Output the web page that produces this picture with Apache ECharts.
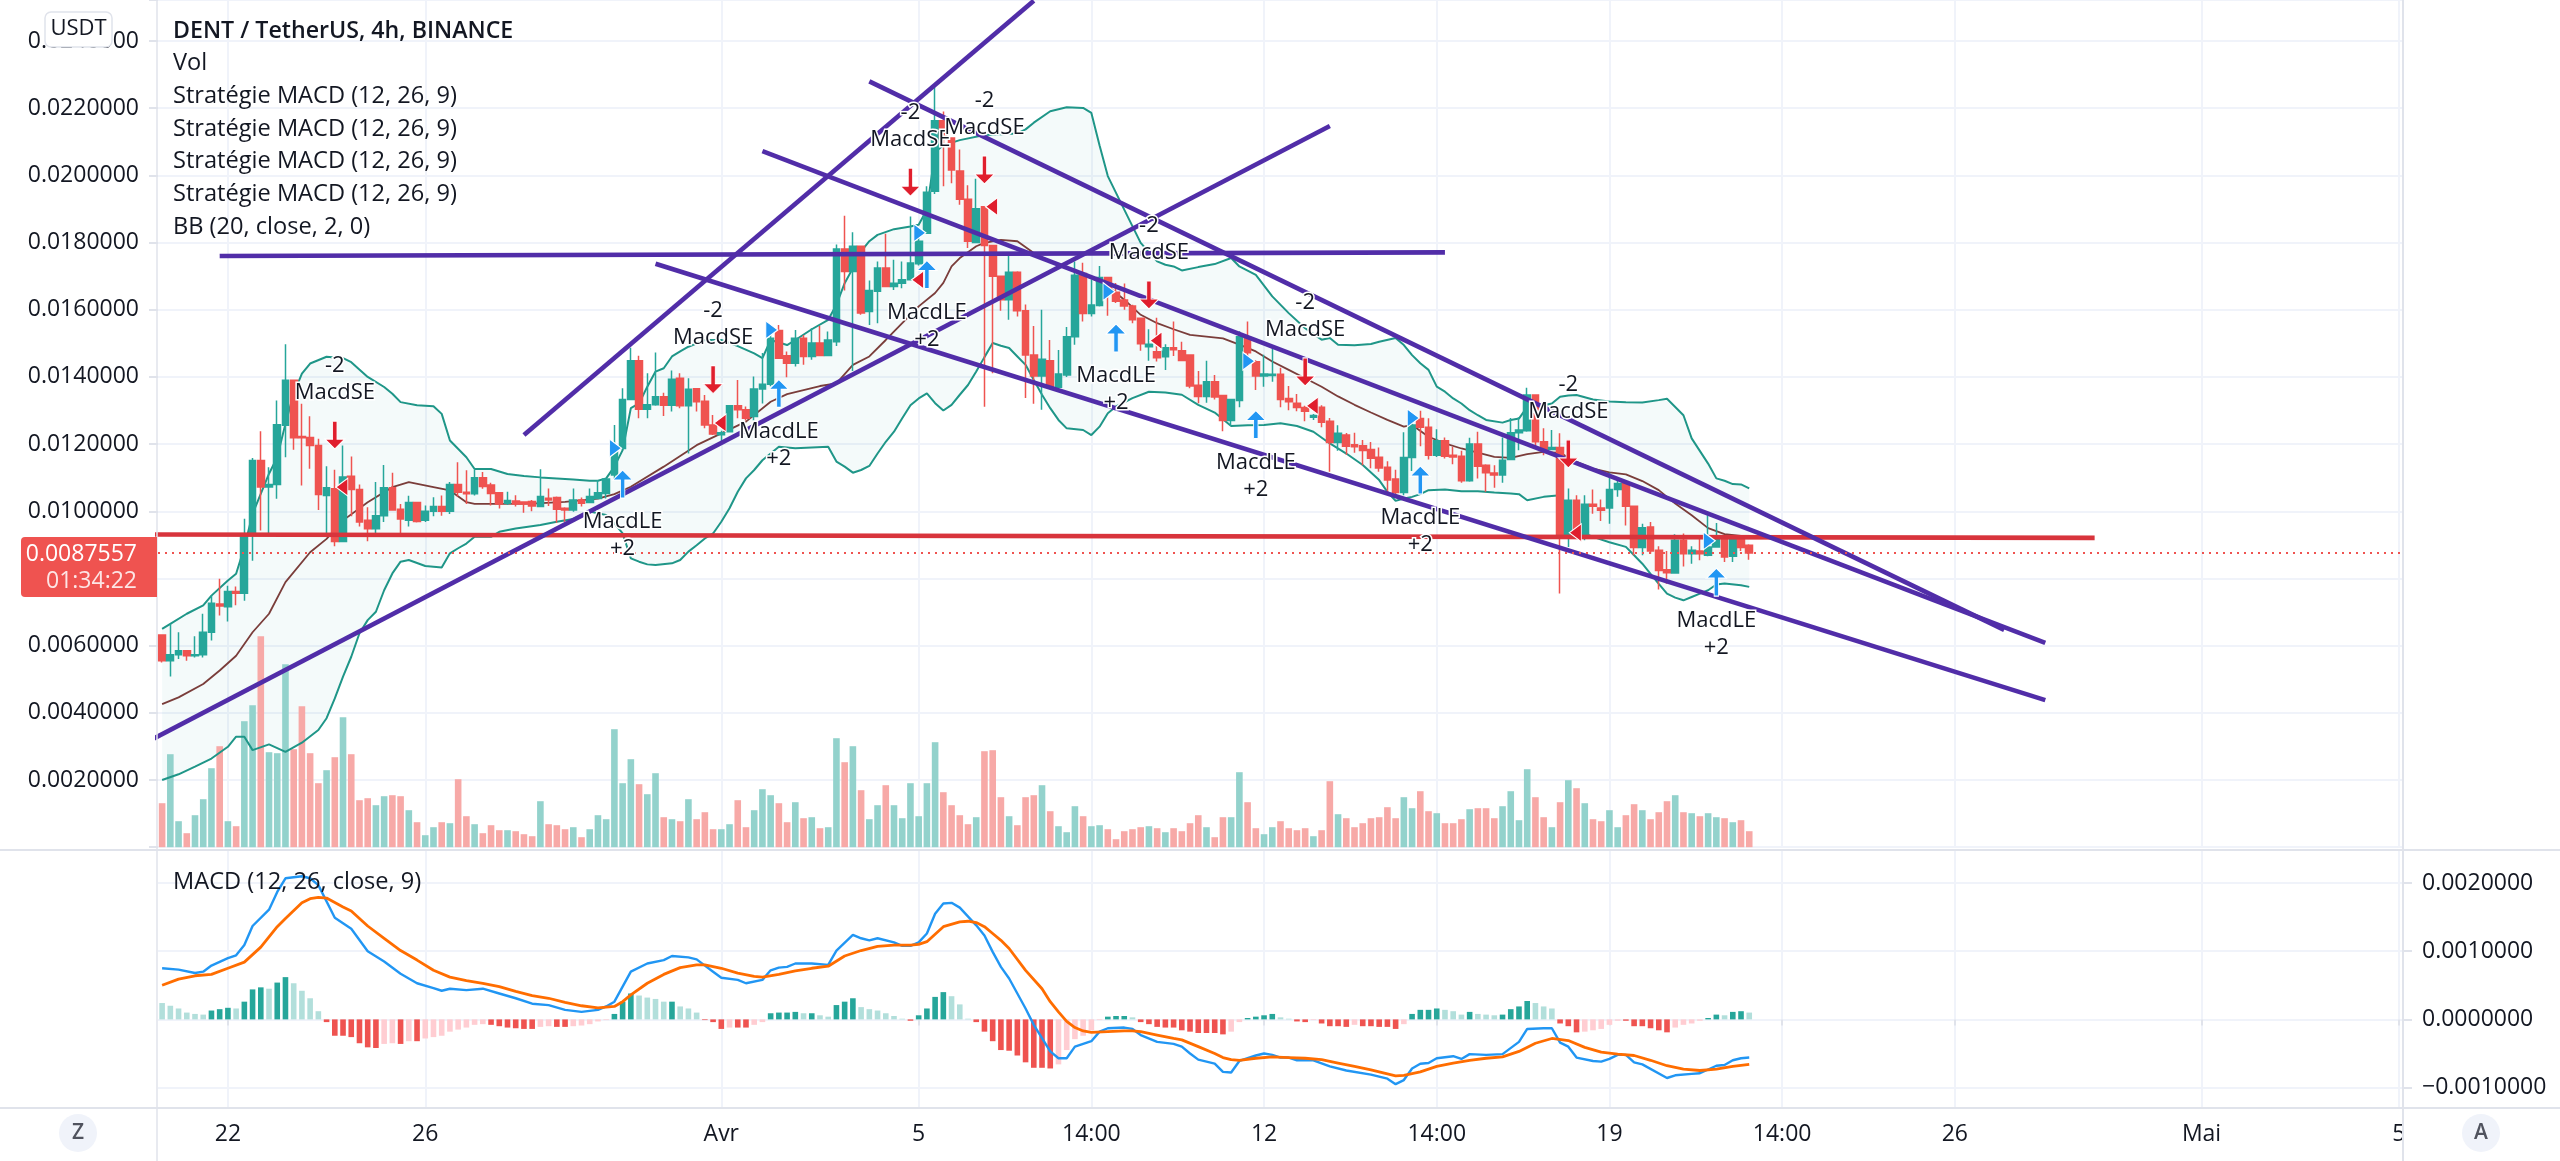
<!DOCTYPE html>
<html>

<head>
    <meta charset="utf-8">
    <title>DENT / TetherUS</title>
    <script src="https://cdn.jsdelivr.net/npm/echarts@6/dist/echarts.min.js"></script>
    <style>
        html, body { margin: 0; padding: 0; background: #fff; }
    </style>
</head>

<body>
    <div id="main" style="width:2560px;height:1161px;"></div>
    <script type="text/javascript">
        // x axis: one slot per 4h candle, including the empty space on the right
        const slotCount = 273;
        const xTickIndex = [8, 32, 68, 92, 113, 134, 155, 176, 197, 218, 248, 272];
        const xTickLabels = ['22', '26', 'Avr', '5', '14:00', '12', '14:00', '19', '14:00', '26', 'Mai', '5'];

        const opens = [
            .00632,.00555,.00573,.00585,.0057,.00573,.0064,.00724,.00716,.00761,
            .00756,.00933,.01151,.01072,.0108,.01256,.0139,.01223,.0122,.01196,
            .01047,.01067,.0091,.01104,.01065,.00973,.00948,.00987,.0107,.01006,
            .00973,.01026,.00973,.01,.01014,.01,.0108,.01057,.01052,.011,
            .01078,.01055,.01024,.01031,.01028,.01029,.01014,.01039,.01041,.01009,
            .01004,.01034,.01026,.01038,.01053,.01108,.01187,.01333,.01448,.01304,
            .01317,.01341,.01316,.01396,.01314,.01365,.01328,.01257,.01228,.01237,
            .01314,.01302,.01282,.01364,.01378,.01538,.01463,.01441,.01515,.01461,
            .01501,.01464,.01505,.01781,.01714,.01789,.01595,.01655,.01724,.01669,
            .01679,.01689,.01737,.01828,.01953,.02163,.02111,.02013,.01929,.018,
            .01907,.01791,.017,.0163,.01712,.01597,.01465,.01403,.01448,.01369,
            .01406,.0152,.01708,.01589,.01613,.01696,.01652,.01629,.01611,.01575,
            .0149,.01475,.0146,.01487,.01478,.01465,.01375,.01342,.01386,.01345,
            .0127,.0133,.01518,.01445,.01403,.01404,.01408,.01336,.01322,.01309,
            .0128,.0131,.01268,.01205,.01227,.01198,.01195,.01184,.01161,.01131,
            .01096,.01056,.0116,.01276,.0125,.01167,.0121,.01167,.01164,.01091,
            .012,.01137,.01114,.01108,.01154,.01234,.0124,.01346,.01207,.01184,
            .0119,.00929,.01033,.00924,.01021,.0101,.0101,.01065,.01083,.01015,
            .00892,.00953,.00884,.00826,.00816,.00914,.00874,.00882,.00869,.00894,
            .00926,.00866,.00926,.00899
        ];
        const closes = [
            .00555,.00573,.00585,.0057,.00573,.0064,.00726,.00718,.00761,.00756,
            .00933,.01151,.01072,.0108,.01258,.0139,.01219,.01219,.01196,.0105,
            .0107,.0091,.01102,.01065,.00968,.00948,.00987,.0107,.01004,.00977,
            .01026,.0097,.01,.01014,.01,.0108,.01057,.01052,.011,.01074,
            .01053,.01022,.01032,.01022,.01022,.01016,.01044,.01034,.01006,.01004,
            .01034,.01024,.01044,.01055,.01096,.01187,.01333,.01448,.01304,.01317,
            .01341,.01316,.01393,.01314,.01363,.01326,.01257,.0123,.01234,.01314,
            .01302,.01277,.01364,.01378,.01515,.01456,.01441,.01515,.01461,.01501,
            .01464,.0151,.01781,.01714,.01789,.0159,.01657,.01724,.01669,.01679,
            .01689,.01739,.01804,.0195,.02163,.0211,.02016,.01929,.01804,.01901,
            .01791,.017,.0163,.01712,.01597,.01465,.01403,.01453,.01371,.01409,
            .0152,.01703,.01589,.01614,.01696,.01648,.01625,.01611,.0157,.01499,
            .01497,.01457,.01487,.01481,.01449,.01373,.01342,.01386,.0134,.0127,
            .01333,.0152,.01472,.01403,.01409,.01408,.01333,.01326,.01309,.01298,
            .01285,.01265,.01205,.01232,.01194,.01192,.01181,.01158,.01129,.01093,
            .01056,.0116,.01257,.0125,.01167,.0121,.01164,.01162,.01091,.012,
            .01134,.01115,.01108,.01152,.01234,.01242,.01346,.01207,.01184,.0119,
            .00929,.01033,.00924,.01021,.01015,.01003,.01065,.01083,.01015,.00892,
            .00951,.00882,.00824,.00817,.00914,.00874,.00884,.00874,.00894,.00919,
            .00864,.00926,.00892,.00876
        ];
        const highs = [
            .00632,.00665,.0064,.00587,.00628,.00695,.00749,.00799,.00778,.00776,
            .00978,.01159,.01238,.01131,.0133,.01497,.0139,.0132,.01283,.01216,
            .01134,.01124,.01196,.01163,.0108,.01012,.01087,.01138,.01115,.01022,
            .01046,.01026,.01017,.01042,.01047,.01087,.01146,.01122,.01124,.01117,
            .01085,.01057,.01058,.01048,.01029,.01034,.01125,.01068,.01044,.01012,
            .01068,.01041,.01068,.01093,.01098,.01257,.01366,.01487,.01463,.01411,
            .01473,.01353,.01419,.01411,.01396,.01366,.01346,.01287,.0124,.01314,
            .01391,.01312,.01401,.01471,.0153,.01555,.01476,.0154,.01525,.01545,
            .01552,.01535,.01794,.0188,.01831,.01789,.01687,.01744,.01826,.01749,
            .01744,.01878,.01835,.01968,.0227,.0219,.02111,.02077,.01971,.0199,
            .01907,.01791,.017,.01767,.01715,.01616,.01552,.016,.0151,.0148,
            .01549,.01744,.0174,.0169,.0173,.01696,.0168,.01678,.01615,.01575,
            .01542,.01576,.01497,.01565,.01505,.01465,.01418,.01448,.01406,.01345,
            .01333,.01536,.01565,.0145,.01466,.0149,.01427,.01373,.01349,.01314,
            .0129,.01316,.01278,.01256,.01233,.01234,.01212,.01206,.0119,.01149,
            .01124,.01235,.01272,.01299,.01277,.01244,.0122,.01192,.0118,.01219,
            .01237,.0114,.01137,.0122,.01278,.0128,.01368,.01346,.01247,.01242,
            .01232,.01068,.01048,.01048,.01065,.01035,.01115,.01093,.01091,.01015,
            .00963,.00968,.00896,.00882,.00932,.00934,.00896,.00924,.00988,.00965,
            .00929,.00929,.00929,.00902
        ];
        const lows = [
            .0055,.00508,.0056,.00555,.00565,.00565,.00615,.0069,.00672,.0072,
            .00734,.00853,.00943,.00928,.01037,.01161,.01183,.01077,.01127,.01004,
            .00928,.00896,.0091,.00985,.00955,.00911,.00935,.00968,.01002,.00931,
            .00955,.00967,.00968,.00985,.00987,.00992,.01044,.01022,.01047,.01067,
            .01017,.01008,.01019,.01014,.00996,.01,.01012,.01016,.00966,.00969,
            .00999,.01014,.01024,.01038,.01038,.01096,.01187,.01331,.01277,.01277,
            .01314,.01284,.01297,.01307,.01172,.01297,.01247,.01227,.01202,.01235,
            .01277,.0127,.0127,.01321,.01372,.01456,.01399,.01431,.01436,.01451,
            .01463,.01463,.01492,.01657,.01418,.01585,.01555,.0156,.01667,.01659,
            .01664,.01689,.01732,.01828,.01945,.01968,.01977,.01913,.01784,.018,
            .01311,.01411,.01597,.0157,.0158,.01337,.0132,.01302,.01364,.01366,
            .014,.01496,.01565,.0158,.0161,.01582,.0162,.016,.0156,.01478,
            .01448,.01446,.01421,.01462,.0145,.01366,.01322,.01323,.01333,.01238,
            .01254,.0131,.01462,.01361,.01371,.01386,.0131,.01301,.01298,.01268,
            .01272,.0125,.01118,.0118,.01168,.01174,.01137,.01128,.01118,.01048,
            .01044,.01048,.0112,.01194,.01154,.01162,.01157,.0114,.01085,.01088,
            .01098,.01058,.0107,.01085,.01152,.01182,.01237,.01192,.01167,.01182,
            .00755,.00894,.00919,.00914,.00993,.00971,.00963,.01043,.00958,.00869,
            .00869,.00874,.00767,.00784,.00814,.00836,.00844,.00854,.00866,.00894,
            .00849,.00849,.00882,.00856
        ];
        const volumes = [
            44,93,26,14,32,48,79,101,26,21,
            126,142,211,95,94,183,98,141,94,64,
            77,90,130,93,47,49,42,51,52,51,
            37,25,12,20,25,24,68,31,23,14,
            22,17,17,16,13,11,46,23,22,18,
            20,10,18,32,28,118,64,88,63,53,
            74,30,28,26,48,28,35,18,18,23,
            47,20,37,58,52,44,25,45,29,30,
            19,20,109,85,101,57,28,42,62,42,
            29,64,31,64,105,55,42,32,23,30,
            96,97,50,31,22,50,52,62,36,21,
            15,41,31,21,22,18,8,16,18,20,
            21,19,15,19,16,24,32,20,10,30,
            30,75,45,19,13,20,26,19,17,19,
            11,17,66,33,29,20,24,29,30,40,
            29,50,39,56,36,34,24,24,28,38,
            39,39,29,41,56,27,78,50,30,20,
            45,67,59,44,28,26,37,20,32,43,
            37,28,35,46,52,35,34,31,34,30,
            29,25,27,16
        ];

        // bollinger bands, read at [candle, price]
        const bbUpper = [
            [0,.0065],[1,.00665],[3,.00695],[5,.0072],[6,.00749],[8,.00794],[9,.00814],[10,.00893],[11,.00992],[13,.01112],
            [14,.01161],[15,.01261],[16,.0135],[17,.0141],[18,.0144],[20,.0146],[22,.01456],[23,.01444],[25,.014],[27,.0137],
            [28,.0135],[29,.01325],[31,.01316],[33,.01313],[34,.0129],[35,.01211],[37,.01161],[38,.01126],[40,.01126],[42,.01111],
            [44,.01105],[46,.01101],[48,.01098],[50,.01095],[52,.01091],[53,.01091],[54,.01098],[55,.01133],[56,.01182],[57,.01307],
            [58,.01321],[59,.01371],[60,.01416],[61,.01426],[62,.01461],[63,.01476],[64,.0149],[66,.0151],[68,.0151],[70,.01492],
            [72,.0147],[73,.01456],[74,.0151],[76,.01495],[77,.0151],[79,.01542],[81,.0157],[82,.01615],[83,.01679],[84,.01724],
            [85,.01774],[86,.01804],[87,.01823],[89,.0184],[91,.01848],[92,.01853],[93,.01898],[94,.0207],[95,.0209],[97,.02105],
            [100,.0212],[104,.02125],[105,.02137],[106,.02157],[108,.02191],[110,.02203],[112,.02201],[113,.02186],[114,.02089],[115,.01998],
            [117,.01898],[119,.01799],[121,.01744],[122,.01734],[123,.01729],[124,.01717],[126,.01727],[128,.01736],[130,.01754],[131,.01729],
            [133,.01704],[135,.0164],[137,.0159],[139,.01545],[141,.01511],[142,.01516],[143,.01496],[145,.01494],[147,.01498],[148,.01505],
            [150,.01516],[151,.01495],[152,.01465],[153,.01441],[154,.01421],[155,.01371],[156,.01356],[157,.01336],[158,.01321],[159,.01301],
            [160,.01286],[161,.01272],[163,.01264],[164,.01272],[165,.01276],[166,.01311],[167,.01316],[168,.01316],[169,.01321],[170,.01341],
            [171,.01345],[172,.01346],[174,.01333],[176,.01327],[178,.01325],[180,.01324],[182,.01331],[183,.01335],[185,.01286],[186,.01217],
            [188,.01142],[189,.01098],[190,.01091],[191,.01081],[192,.0108],[193,.01068]
        ];
        const bbLower = [
            [0,.002],[2,.00217],[4,.0024],[6,.00264],[8,.00299],[9,.00329],[10,.00329],[11,.00289],[13,.00306],[15,.00284],
            [17,.00311],[19,.00349],[20,.00384],[21,.00443],[22,.00508],[23,.00567],[24,.00637],[25,.00676],[26,.00701],[27,.00765],
            [28,.00815],[29,.0085],[30,.00855],[32,.00837],[34,.00833],[35,.00875],[36,.0089],[37,.00904],[38,.00924],[40,.00924],
            [41,.00939],[43,.00949],[46,.00959],[48,.00969],[50,.00977],[52,.00999],[54,.00989],[55,.00964],[56,.00934],[57,.0086],
            [58,.0085],[59,.00842],[60,.0084],[62,.00845],[63,.00855],[64,.0088],[65,.00899],[66,.00919],[67,.00934],[68,.00969],
            [69,.01009],[70,.01058],[71,.01098],[72,.01123],[73,.01152],[75,.01192],[77,.01188],[79,.0119],[81,.01192],[82,.01148],
            [83,.01133],[84,.01115],[85,.01123],[86,.01135],[87,.01172],[88,.01207],[89,.01237],[90,.01277],[91,.01316],[92,.01336],
            [93,.01351],[94,.01322],[95,.013],[96,.01317],[97,.01347],[98,.01376],[99,.01416],[100,.01459],[101,.01501],[102,.01493],
            [103,.01486],[104,.01461],[105,.01436],[106,.01391],[107,.01347],[108,.01307],[109,.01272],[110,.01247],[112,.01242],[113,.01227],
            [114,.01252],[115,.01292],[116,.01312],[118,.01337],[120,.01356],[122,.01354],[124,.01347],[126,.01317],[128,.01294],[130,.01254],
            [132,.01256],[134,.01257],[136,.01262],[138,.01254],[140,.01237],[142,.01202],[144,.01172],[146,.01138],[148,.01093],[149,.01058],
            [150,.01031],[151,.01038],[152,.01043],[153,.01051],[154,.01063],[156,.01065],[158,.0106],[160,.0106],[162,.01056],[164,.01053],
            [165,.01051],[166,.01033],[168,.01043],[170,.01048],[171,.00939],[172,.00934],[173,.00934],[174,.00924],[176,.00908],[178,.00894],
            [179,.00869],[180,.00844],[181,.00814],[182,.00784],[183,.00755],[184,.00743],[185,.00735],[186,.00745],[187,.00755],[188,.00765],
            [189,.00782],[190,.00785],[192,.0078],[193,.00775]
        ];
        const bbBasis = [
            [0,.00426],[2,.00446],[5,.00486],[7,.00526],[9,.0057],[11,.0064],[13,.00695],[15,.00789],[18,.00878],[20,.00918],
            [22,.00973],[25,.01027],[28,.01072],[30,.01087],[33,.01072],[35,.01062],[37,.01027],[38,.01022],[41,.01022],[45,.01023],
            [49,.01028],[53,.01038],[55,.01051],[57,.01073],[61,.01133],[65,.01197],[68,.01232],[71,.01267],[74,.01326],[76,.01349],
            [80,.01373],[82,.01381],[84,.01436],[86,.01461],[88,.0151],[90,.0156],[92,.0161],[94,.0165],[95,.0168],[96,.01729],
            [97,.01754],[99,.01789],[100,.01799],[102,.01808],[104,.01804],[106,.01769],[108,.01744],[110,.01724],[113,.01694],[115,.0167],
            [117,.0163],[119,.01585],[121,.0156],[123,.01542],[125,.01525],[127,.0152],[129,.01515],[131,.01496],[133,.01476],[135,.01446],
            [137,.01421],[139,.01396],[141,.01371],[143,.01342],[145,.01317],[147,.01294],[149,.01272],[151,.01252],[152,.01257],[154,.01222],
            [156,.01202],[158,.01187],[160,.01175],[162,.01162],[164,.01159],[166,.0117],[168,.01177],[170,.01174],[172,.01147],[174,.01127],
            [176,.01116],[178,.0111],[180,.0109],[182,.01063],[184,.01023],[186,.00988],[188,.0095],[190,.00932],[192,.00927],[193,.00922]
        ];

        // macd pane
        const macdHist = [
            .00024,.0002,.00016,.0001,.00008,.00007,.00013,.00015,.00017,.00016,
            .00026,.00044,.00047,.00045,.00054,.00062,.00053,.00042,.00031,.00012,
            -.00004,-.00024,-.00024,-.00026,-.00035,-.00041,-.00042,-.00036,-.00035,-.00036,
            -.00032,-.00032,-.00028,-.00026,-.00024,-.00018,-.00015,-.00012,-.00008,-.00007,
            -.00008,-.0001,-.00012,-.00013,-.00014,-.00014,-.00011,-.0001,-.00011,-.00011,
            -.0001,-.00009,-.00007,-.00003,-.00001,.00008,.00026,.00038,.00035,.00032,
            .0003,.00026,.00026,.00019,.00016,.0001,-.00001,-.00004,-.00014,-.00012,
            -.00012,-.00012,-.00008,-.00004,.00009,.0001,.0001,.00011,.00009,.00009,
            .00006,.00004,.00021,.00026,.00031,.00018,.00015,.00013,.00009,.00005,
            .00001,-.00002,.00006,.00016,.00033,.0004,.00034,.00022,.00001,-.00004,
            -.00018,-.00032,-.00045,-.00046,-.00053,-.00063,-.00071,-.00071,-.00072,-.00066,
            -.00045,-.00029,-.00024,-.00016,-.00001,.00004,.00005,.00005,.00003,-.00004,
            -.00007,-.00011,-.00012,-.00012,-.00016,-.00018,-.0002,-.0002,-.0002,-.00022,
            -.00018,-.00004,.00002,.00004,.00006,.00008,.00003,.00001,-.00003,-.00004,
            -.00001,-.00006,-.0001,-.0001,-.00011,-.00008,-.0001,-.0001,-.00011,-.00011,
            -.00014,-.00007,.00008,.00014,.00014,.00016,.00014,.00012,.00007,.00011,
            .00008,.00007,.00006,.00007,.00015,.00019,.00027,.00024,.00019,.00016,
            -.00006,-.0001,-.00019,-.00018,-.00016,-.00014,-.00008,-.00002,-.00002,-.0001,
            -.0001,-.00013,-.00016,-.00019,-.00012,-.00008,-.00006,-.00002,.00002,.00007,
            .00006,.00011,.00012,.0001
        ];
        const macdLine = [
            [0,.00075],[2,.00073],[4,.00068],[5,.0007],[6,.00079],[8,.0009],[9,.00094],[10,.00109],[11,.00137],[13,.00161],
            [14,.00187],[15,.00207],[17,.0021],[18,.00207],[19,.00197],[21,.00149],[23,.00133],[25,.001],[27,.00085],[29,.00067],
            [31,.00053],[33,.00046],[34,.00042],[35,.00045],[37,.00043],[39,.00045],[41,.00038],[43,.00031],[45,.00023],[47,.00021],
            [49,.00014],[51,.00011],[53,.00014],[54,.00019],[55,.00026],[57,.0007],[59,.00082],[61,.00087],[62,.00093],[64,.00091],
            [65,.00088],[67,.0007],[68,.00061],[70,.00058],[71,.00053],[73,.00058],[74,.00072],[75,.00076],[76,.00077],[77,.00082],
            [79,.00082],[81,.0008],[82,.00101],[84,.00124],[85,.00119],[86,.00116],[87,.00119],[89,.00113],[90,.00108],[91,.00108],
            [92,.00113],[93,.00126],[94,.00155],[95,.0017],[96,.00171],[97,.00164],[99,.00138],[100,.00123],[101,.00099],[102,.00077],
            [103,.0006],[105,.00016],[106,-.00008],[108,-.00047],[109,-.00057],[110,-.00057],[111,-.0004],[113,-.00032],[114,-.00018],[115,-.00013],
            [117,-.00012],[118,-.00014],[119,-.00023],[121,-.00033],[123,-.00036],[124,-.0004],[125,-.0005],[126,-.00059],[128,-.00065],[129,-.00077],
            [130,-.00078],[131,-.00061],[133,-.00053],[134,-.0005],[135,-.00052],[136,-.00056],[137,-.00056],[138,-.0006],[140,-.0006],[142,-.00069],
            [144,-.00075],[147,-.00081],[149,-.00087],[150,-.00095],[151,-.00089],[152,-.00072],[153,-.00065],[154,-.00064],[155,-.00057],[157,-.00054],
            [158,-.00058],[159,-.00051],[161,-.00052],[163,-.00051],[165,-.00033],[166,-.00014],[168,-.00013],[169,-.00013],[170,-.00034],[171,-.0004],
            [172,-.00056],[174,-.00061],[175,-.00062],[176,-.00058],[177,-.00052],[178,-.00052],[179,-.00063],[180,-.00066],[183,-.00086],[184,-.00082],
            [186,-.0008],[187,-.00079],[189,-.00068],[190,-.00067],[191,-.0006],[192,-.00057],[193,-.00056]
        ];
        const macdSignal = [
            [0,.0005],[2,.00059],[4,.00064],[6,.00066],[8,.00075],[10,.00084],[12,.00106],[14,.00136],[15,.00148],[17,.00171],
            [18,.00177],[19,.00179],[20,.00178],[22,.00165],[23,.00159],[25,.00137],[27,.00119],[29,.00101],[31,.00087],[33,.00072],
            [35,.00062],[37,.00057],[39,.00053],[41,.00048],[43,.00041],[45,.00035],[47,.00031],[49,.00025],[51,.0002],[53,.00017],
            [55,.00019],[56,.00026],[57,.00036],[59,.00053],[61,.00066],[63,.00076],[65,.0008],[66,.0008],[68,.00075],[70,.00068],
            [72,.00063],[73,.00062],[75,.00066],[77,.00071],[79,.00075],[81,.00078],[83,.00093],[85,.00101],[87,.00107],[89,.00109],
            [91,.00109],[92,.0011],[93,.00114],[95,.00136],[97,.00143],[98,.00144],[99,.00142],[100,.00136],[101,.00126],[102,.00116],
            [103,.00104],[105,.00072],[107,.00045],[108,.00026],[109,.00011],[110,-.00003],[111,-.00012],[112,-.00017],[113,-.00019],[115,-.00018],
            [117,-.00017],[118,-.00017],[119,-.00018],[121,-.00023],[123,-.00028],[124,-.0003],[126,-.0004],[128,-.0005],[129,-.00056],[130,-.00059],
            [131,-.0006],[133,-.00057],[135,-.00055],[137,-.00056],[139,-.00057],[141,-.00059],[143,-.00064],[145,-.00069],[147,-.00074],[149,-.0008],
            [150,-.00083],[151,-.00082],[153,-.00077],[155,-.00069],[157,-.00064],[159,-.0006],[161,-.00057],[163,-.00055],[165,-.00047],[167,-.00035],
            [169,-.00028],[171,-.00031],[173,-.00041],[175,-.00048],[177,-.00051],[179,-.00053],[181,-.0006],[183,-.00068],[185,-.00073],[187,-.00075],
            [189,-.00073],[191,-.00069],[193,-.00066]
        ];

        // strategy signals
        const shortIndex = [21, 67, 91, 100, 120, 139, 171];
        const shortArrowPrice = [.01227, .01392, .0198, .02016, .01644, .01415, .01171];
        const shortTrianglePrice = [.01072, .01263, .01689, .01907, .01508, .01314, .00936];
        const longIndex = [56, 75, 93, 116, 133, 153, 189];
        const longArrowPrice = [.01081, .01351, .01705, .01516, .01258, .01093, .00789];
        const longTrianglePrice = [.01188, .0154, .01829, .01654, .01447, .01278, .00912];

        // hand drawn lines, [candle, price] at each end. -1 starts just left of the pane and gets clipped
        const trendLines = [
            [[7, .0176], [156, .01771]],
            [[44, .01227], [106, .0252]],
            [[-1, .00324], [142, .02147]],
            [[86, .0228], [224, .00647]],
            [[73, .02072], [229, .00608]],
            [[60, .01737], [229, .00438]]
        ];
        const supportLine = [[-1, .00931], [235, .00921]];
        const lastPrice = 0.0087557;

        const legendRows = [
            'Vol',
            'Stratégie MACD (12, 26, 9)',
            'Stratégie MACD (12, 26, 9)',
            'Stratégie MACD (12, 26, 9)',
            'Stratégie MACD (12, 26, 9)',
            'BB (20, close, 2, 0)'
        ];

        const fontName = '"Open Sans", "Noto Sans", sans-serif';
        const textColor = '#131722';
        const gridColor = '#f0f3fa';
        const borderColor = '#e0e3eb';
        const upColor = '#26a69a';
        const downColor = '#ef5350';
        const purple = '#512da8';

        const categories = [];
        for (let i = 0; i < slotCount; i++) {
            const k = xTickIndex.indexOf(i);
            categories.push(k >= 0 ? xTickLabels[k] : '');
        }
        const isTick = (index) => xTickIndex.indexOf(index) >= 0;

        const candleData = opens.map((o, i) => [o, closes[i], lows[i], highs[i]]);
        const volumeData = volumes.map((v, i) => ({
            value: v,
            itemStyle: { color: closes[i] >= opens[i] ? '#93d2cc' : '#f7a9a7' }
        }));
        const histData = macdHist.map((h, i) => {
            const prev = i > 0 ? macdHist[i - 1] : h + 0.00001;
            let color;
            if (h >= 0) color = h >= prev ? '#26a69a' : '#b2dfdb';
            else color = h <= prev ? '#ef5350' : '#ffcdd2';
            return { value: h, itemStyle: { color: color } };
        });

        const arrowDown = 'path://M7.8 0 L12.2 0 L12.2 18 L20 18 L10 28 L0 18 L7.8 18 Z';
        const arrowUp = 'path://M10 0 L20 10 L12.2 10 L12.2 28 L7.8 28 L7.8 10 L0 10 Z';
        const triLeft = 'path://M12 0 L12 18 L0 9 Z';
        const triRight = 'path://M0 0 L12 9 L0 18 Z';

        function signalSeries(name, index, price, symbol, size, color, offset, labelText, labelPos, labelDist) {
            return {
                name: name,
                type: 'scatter',
                xAxisIndex: 0,
                yAxisIndex: 0,
                z: 6,
                symbol: symbol,
                symbolSize: size,
                symbolOffset: [offset, 0],
                silent: true,
                itemStyle: { color: color, opacity: 1, borderColor: '#fff', borderWidth: 1 },
                label: {
                    show: !!labelText,
                    formatter: labelText,
                    position: labelPos,
                    distance: labelDist,
                    fontFamily: fontName,
                    fontSize: 22,
                    lineHeight: 27,
                    color: textColor,
                    textBorderColor: '#fff',
                    textBorderWidth: 3
                },
                data: index.map((x, i) => [x, price[i]])
            };
        }

        function plainLine(name, data, color, width, z, xi, yi) {
            return {
                name: name,
                type: 'line',
                xAxisIndex: xi,
                yAxisIndex: yi,
                z: z,
                symbol: 'none',
                silent: true,
                lineStyle: { color: color, width: width },
                data: data
            };
        }

        const series = [
            {
                name: 'BB fill',
                type: 'custom',
                xAxisIndex: 0,
                yAxisIndex: 0,
                z: 1,
                silent: true,
                data: [[0, bbUpper[0][1]]],
                renderItem: function (params, api) {
                    const pts = bbUpper.map((p) => api.coord(p))
                        .concat(bbLower.slice().reverse().map((p) => api.coord(p)));
                    return {
                        type: 'polygon',
                        shape: { points: pts },
                        style: { fill: 'rgba(38,166,154,0.05)' }
                    };
                }
            },
            {
                name: 'Vol',
                type: 'bar',
                xAxisIndex: 0,
                yAxisIndex: 1,
                z: 1,
                barWidth: 6.6,
                silent: true,
                data: volumeData
            },
            plainLine('BB upper', bbUpper, '#1f9688', 2, 2, 0, 0),
            plainLine('BB lower', bbLower, '#1f9688', 2, 2, 0, 0),
            plainLine('BB basis', bbBasis, '#7a3d3a', 1.8, 2, 0, 0),
            {
                name: 'DENT',
                type: 'candlestick',
                xAxisIndex: 0,
                yAxisIndex: 0,
                z: 3,
                barWidth: 7.2,
                silent: true,
                itemStyle: {
                    color: upColor,
                    color0: downColor,
                    borderColor: upColor,
                    borderColor0: downColor,
                    borderWidth: 1.5
                },
                data: candleData,
                markLine: {
                    silent: true,
                    symbol: 'none',
                    precision: 7,
                    label: { show: false },
                    lineStyle: { color: downColor, type: [2, 5], width: 2 },
                    data: [{ yAxis: lastPrice }]
                }
            },
            plainLine('support', supportLine, '#d8343c', 4.6, 4, 0, 0)
        ];
        trendLines.forEach((line, i) => {
            series.push(plainLine('trend ' + i, line, purple, 4.6, 4, 0, 0));
        });
        series.push(signalSeries('short arrow', shortIndex, shortArrowPrice, arrowDown, [20, 28], '#e01e2d', 0, '-2\nMacdSE', 'top', 14));
        series.push(signalSeries('short tri', shortIndex, shortTrianglePrice, triLeft, [12, 18], '#e01e2d', 7));
        series.push(signalSeries('long arrow', longIndex, longArrowPrice, arrowUp, [20, 28], '#2196f3', 0, 'MacdLE\n+2', 'bottom', 10));
        series.push(signalSeries('long tri', longIndex, longTrianglePrice, triRight, [12, 18], '#2196f3', -7));
        series.push({
            name: 'Histogram',
            type: 'bar',
            xAxisIndex: 1,
            yAxisIndex: 2,
            z: 2,
            barWidth: 5.6,
            silent: true,
            data: histData
        });
        series.push(plainLine('MACD', macdLine, '#2196f3', 2.4, 3, 1, 2));
        series.push(plainLine('Signal', macdSignal, '#ff6d00', 2.8, 4, 1, 2));

        function textEl(text, x, y, opts) {
            return {
                type: 'text',
                x: x,
                y: y,
                z: 200,
                silent: true,
                style: Object.assign({
                    text: text,
                    fontFamily: fontName,
                    fontSize: 23.6,
                    fill: textColor,
                    textVerticalAlign: 'middle'
                }, opts || {})
            };
        }
        function ruleEl(x1, y1, x2, y2, width) {
            return {
                type: 'line',
                z: 150,
                silent: true,
                shape: { x1: x1, y1: y1, x2: x2, y2: y2 },
                style: { stroke: borderColor, lineWidth: width }
            };
        }

        const graphics = [
            // covers what spills out of the time axis on the right
            { type: 'rect', z: 140, silent: true, shape: { x: 2404, y: 1110, width: 156, height: 51 }, style: { fill: '#fff' } },
            ruleEl(0, 850, 2560, 850, 2),
            ruleEl(0, 1108, 2560, 1108, 2),
            ruleEl(157, 0, 157, 1161, 1.5),
            ruleEl(2403, 0, 2403, 1161, 2),
            textEl('DENT / TetherUS, 4h, BINANCE', 173, 31, { fontWeight: 600, fontSize: 23.2 }),
            textEl('MACD (12, 26, close, 9)', 173, 882),
            { type: 'rect', z: 190, silent: true, shape: { x: 45, y: 12, width: 67, height: 35, r: 6 }, style: { fill: '#fff', stroke: borderColor, lineWidth: 1.5 } },
            textEl('USDT', 78.5, 29, { textAlign: 'center', fontSize: 22 }),
            { type: 'rect', z: 190, silent: true, shape: { x: 21, y: 537, width: 136, height: 60, r: [4, 0, 0, 4] }, style: { fill: downColor } },
            textEl('0.0087557', 137, 554, { textAlign: 'right', fill: '#fff', fontSize: 23 }),
            textEl('01:34:22', 137, 581, { textAlign: 'right', fill: 'rgba(255,255,255,0.85)', fontSize: 23 }),
            { type: 'circle', z: 190, silent: true, shape: { cx: 78, cy: 1133, r: 19 }, style: { fill: '#f0f3fa' } },
            textEl('Z', 78, 1133, { textAlign: 'center', fill: '#50535e', fontWeight: 600, fontSize: 21 }),
            { type: 'circle', z: 190, silent: true, shape: { cx: 2481, cy: 1133, r: 19 }, style: { fill: '#f0f3fa' } },
            textEl('A', 2481, 1133, { textAlign: 'center', fill: '#50535e', fontWeight: 600, fontSize: 21 })
        ];
        legendRows.forEach((row, i) => {
            graphics.push(textEl(row, 173, 63.5 + i * 32.7));
        });

        var myChart = echarts.init(document.getElementById('main'));
        myChart.setOption({
            animation: false,
            backgroundColor: '#fff',
            grid: [
                { left: 158, top: 0, width: 2245, height: 847.2 },
                { left: 158, top: 850, width: 2245, height: 258 }
            ],
            xAxis: [
                {
                    type: 'category',
                    gridIndex: 0,
                    data: categories,
                    axisLine: { show: false },
                    axisTick: { show: false },
                    axisLabel: { show: false, interval: (i) => isTick(i) },
                    splitLine: { show: true, alignWithLabel: true, interval: (i) => isTick(i), lineStyle: { color: gridColor, width: 2 } }
                },
                {
                    type: 'category',
                    gridIndex: 1,
                    data: categories,
                    axisLine: { show: false },
                    axisTick: { show: true, alignWithLabel: true, interval: (i) => isTick(i), length: 6, lineStyle: { color: borderColor, width: 2 } },
                    axisLabel: { show: true, interval: (i) => isTick(i), margin: 15, color: textColor, fontFamily: fontName, fontSize: 23 },
                    splitLine: { show: true, alignWithLabel: true, interval: (i) => isTick(i), lineStyle: { color: gridColor, width: 2 } }
                }
            ],
            yAxis: [
                {
                    type: 'value',
                    gridIndex: 0,
                    position: 'left',
                    min: 0,
                    max: 0.025222,
                    interval: 0.002,
                    axisLine: { show: false },
                    axisTick: { show: true, length: 9, lineStyle: { color: borderColor, width: 2 } },
                    axisLabel: {
                        margin: 19,
                        color: textColor,
                        fontFamily: fontName,
                        fontSize: 23,
                        formatter: (v) => (v > 0 && v < 0.025) ? v.toFixed(7) : ''
                    },
                    splitLine: { show: true, lineStyle: { color: gridColor, width: 2 } }
                },
                {
                    type: 'value',
                    gridIndex: 0,
                    position: 'right',
                    min: 0,
                    max: 847.2,
                    show: false,
                    splitLine: { show: false }
                },
                {
                    type: 'value',
                    gridIndex: 1,
                    position: 'right',
                    min: -0.0013,
                    max: 0.002485,
                    axisLine: { show: false },
                    axisTick: { show: true, length: 9, customValues: [-0.001, 0, 0.001, 0.002], lineStyle: { color: borderColor, width: 2 } },
                    axisLabel: {
                        margin: 19,
                        color: textColor,
                        fontFamily: fontName,
                        fontSize: 23,
                        customValues: [-0.001, 0, 0.001, 0.002],
                        formatter: (v) => (v < 0 ? '−' : '') + Math.abs(v).toFixed(7)
                    },
                    splitLine: { show: true, lineStyle: { color: gridColor, width: 2 } }
                }
            ],
            series: series,
            graphic: graphics
        });
    </script>
</body>

</html>
